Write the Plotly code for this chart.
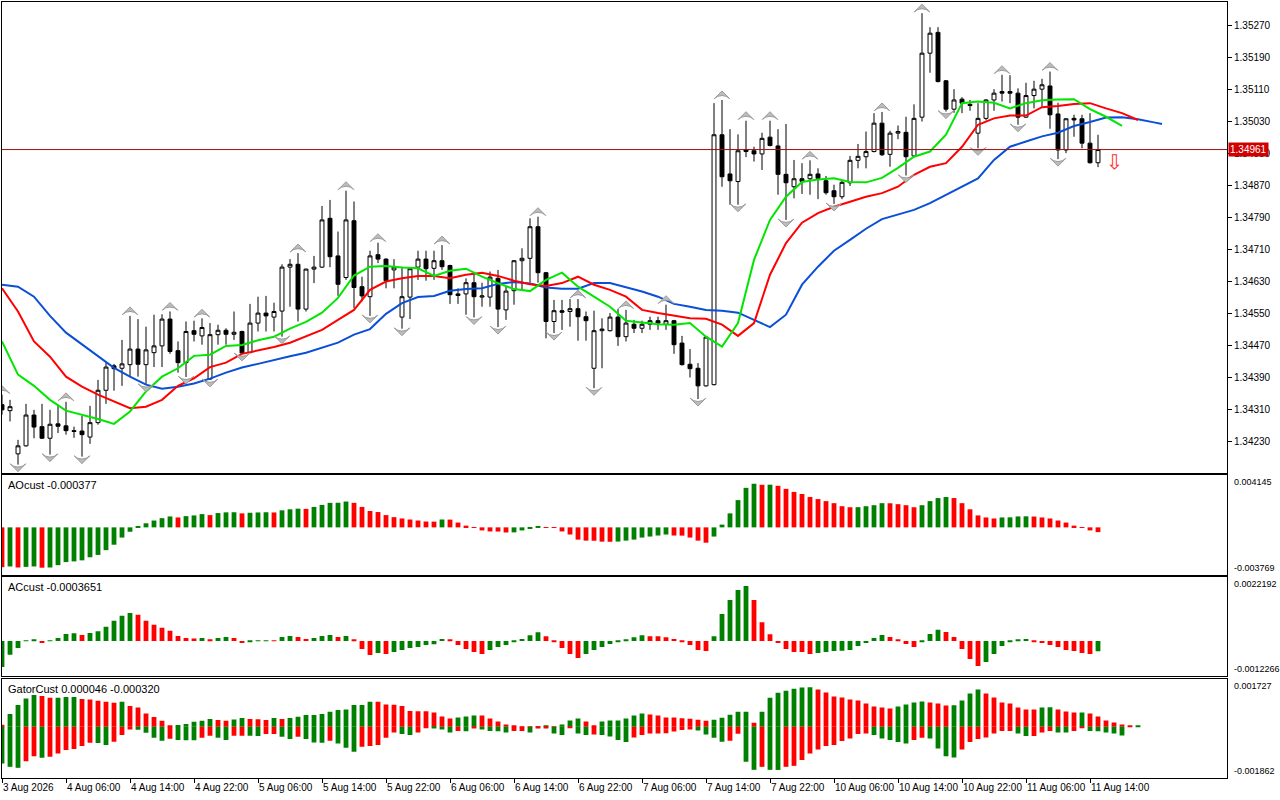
import plotly.graph_objects as go
from plotly.subplots import make_subplots

# H1 bars, bar 0 = 3 Aug 2026 22:00
opens = [
    1.34323, 1.34308, 1.34200, 1.34220, 1.34297, 1.34268, 1.34239, 1.34275, 1.34270, 1.34258,
    1.34257, 1.34242, 1.34278, 1.34359, 1.34420, 1.34414, 1.34423, 1.34462, 1.34423, 1.34453,
    1.34470, 1.34537, 1.34458, 1.34428, 1.34508, 1.34495, 1.34387, 1.34498, 1.34509, 1.34499,
    1.34506, 1.34453, 1.34527, 1.34552, 1.34542, 1.34557, 1.34667, 1.34674, 1.34562, 1.34662,
    1.34667, 1.34789, 1.34695, 1.34641, 1.34783, 1.34618, 1.34593, 1.34698, 1.34687, 1.34660,
    1.34542, 1.34592, 1.34667, 1.34687, 1.34664, 1.34683, 1.34671, 1.34600, 1.34600, 1.34628,
    1.34592, 1.34592, 1.34639, 1.34560, 1.34608, 1.34683, 1.34689, 1.34768, 1.34653, 1.34531,
    1.34558, 1.34556, 1.34563, 1.34543, 1.34414, 1.34508, 1.34508, 1.34542, 1.34493, 1.34524,
    1.34514, 1.34524, 1.34533, 1.34524, 1.34533, 1.34477, 1.34424, 1.34414, 1.34370, 1.34373,
    1.34998, 1.34900, 1.34881, 1.34960, 1.34958, 1.34950, 1.34992, 1.34970, 1.34899, 1.34868,
    1.34888, 1.34888, 1.34900, 1.34883, 1.34858, 1.34843, 1.34878, 1.34934, 1.34943, 1.34956,
    1.35027, 1.34949, 1.35002, 1.35004, 1.34945, 1.35042, 1.35202, 1.35254, 1.35133, 1.35062,
    1.35087, 1.35074, 1.35002, 1.35039, 1.35085, 1.35106, 1.35106, 1.35102, 1.35042, 1.35096,
    1.35112, 1.35120, 1.35050, 1.34960, 1.35039, 1.35038, 1.34977, 1.34928,
]
highs = [
    1.34348, 1.34335, 1.34235, 1.34325, 1.34310, 1.34325, 1.34310, 1.34320, 1.34330, 1.34268,
    1.34295, 1.34320, 1.34385, 1.34428, 1.34425, 1.34485, 1.34545, 1.34537, 1.34518, 1.34548,
    1.34549, 1.34556, 1.34481, 1.34531, 1.34533, 1.34539, 1.34527, 1.34523, 1.34514, 1.34556,
    1.34508, 1.34575, 1.34593, 1.34595, 1.34578, 1.34674, 1.34687, 1.34702, 1.34663, 1.34695,
    1.34820, 1.34835, 1.34756, 1.34858, 1.34831, 1.34643, 1.34708, 1.34728, 1.34689, 1.34687,
    1.34668, 1.34663, 1.34708, 1.34708, 1.34708, 1.34722, 1.34673, 1.34614, 1.34639, 1.34653,
    1.34628, 1.34656, 1.34660, 1.34618, 1.34684, 1.34714, 1.34789, 1.34793, 1.34655, 1.34585,
    1.34585, 1.34587, 1.34587, 1.34556, 1.34558, 1.34539, 1.34552, 1.34562, 1.34560, 1.34535,
    1.34533, 1.34543, 1.34543, 1.34573, 1.34535, 1.34495, 1.34462, 1.34427, 1.34493, 1.35077,
    1.35085, 1.35012, 1.34999, 1.35033, 1.34968, 1.35003, 1.35033, 1.35012, 1.35025, 1.34935,
    1.34927, 1.34934, 1.34914, 1.34895, 1.34873, 1.34885, 1.34945, 1.34975, 1.35006, 1.35052,
    1.35055, 1.35008, 1.35021, 1.35043, 1.35074, 1.35302, 1.35267, 1.35267, 1.35135, 1.35112,
    1.35092, 1.35085, 1.35077, 1.35087, 1.35112, 1.35148, 1.35147, 1.35114, 1.35128, 1.35133,
    1.35138, 1.35156, 1.35078, 1.35039, 1.35048, 1.35048, 1.35052, 1.34998,
]
lows = [
    1.34298, 1.34281, 1.34173, 1.34218, 1.34239, 1.34237, 1.34198, 1.34252, 1.34248, 1.34240,
    1.34193, 1.34225, 1.34273, 1.34325, 1.34358, 1.34370, 1.34393, 1.34393, 1.34373, 1.34417,
    1.34417, 1.34450, 1.34403, 1.34392, 1.34481, 1.34473, 1.34385, 1.34473, 1.34473, 1.34485,
    1.34450, 1.34452, 1.34506, 1.34506, 1.34506, 1.34493, 1.34568, 1.34531, 1.34556, 1.34627,
    1.34665, 1.34667, 1.34595, 1.34635, 1.34564, 1.34581, 1.34545, 1.34677, 1.34614, 1.34614,
    1.34513, 1.34537, 1.34635, 1.34633, 1.34635, 1.34660, 1.34575, 1.34575, 1.34548, 1.34541,
    1.34568, 1.34568, 1.34517, 1.34535, 1.34573, 1.34608, 1.34628, 1.34628, 1.34489, 1.34502,
    1.34510, 1.34518, 1.34483, 1.34483, 1.34364, 1.34414, 1.34506, 1.34470, 1.34481, 1.34502,
    1.34502, 1.34510, 1.34510, 1.34510, 1.34450, 1.34421, 1.34391, 1.34337, 1.34368, 1.34371,
    1.34868, 1.34823, 1.34823, 1.34942, 1.34931, 1.34910, 1.34969, 1.34848, 1.34785, 1.34839,
    1.34850, 1.34848, 1.34837, 1.34848, 1.34825, 1.34837, 1.34870, 1.34914, 1.34914, 1.34954,
    1.34945, 1.34918, 1.34987, 1.34896, 1.34943, 1.35031, 1.35153, 1.35129, 1.35056, 1.35053,
    1.35052, 1.35058, 1.34964, 1.35034, 1.35058, 1.35081, 1.35077, 1.35023, 1.35040, 1.35064,
    1.35068, 1.35013, 1.34937, 1.34952, 1.34993, 1.34964, 1.34926, 1.34917,
]
closes = [
    1.34310, 1.34318, 1.34220, 1.34297, 1.34267, 1.34239, 1.34274, 1.34269, 1.34258, 1.34256,
    1.34248, 1.34278, 1.34359, 1.34417, 1.34413, 1.34425, 1.34462, 1.34424, 1.34460, 1.34470,
    1.34537, 1.34456, 1.34428, 1.34506, 1.34499, 1.34516, 1.34498, 1.34509, 1.34499, 1.34504,
    1.34452, 1.34527, 1.34552, 1.34545, 1.34556, 1.34667, 1.34674, 1.34562, 1.34662, 1.34667,
    1.34785, 1.34693, 1.34624, 1.34785, 1.34616, 1.34595, 1.34695, 1.34687, 1.34633, 1.34667,
    1.34593, 1.34663, 1.34687, 1.34663, 1.34683, 1.34668, 1.34598, 1.34596, 1.34628, 1.34593,
    1.34595, 1.34642, 1.34562, 1.34607, 1.34683, 1.34689, 1.34768, 1.34653, 1.34531, 1.34558,
    1.34554, 1.34563, 1.34543, 1.34533, 1.34508, 1.34512, 1.34542, 1.34493, 1.34527, 1.34514,
    1.34524, 1.34533, 1.34527, 1.34533, 1.34473, 1.34423, 1.34413, 1.34370, 1.34492, 1.34998,
    1.34893, 1.34883, 1.34958, 1.34956, 1.34950, 1.34989, 1.34971, 1.34899, 1.34878, 1.34888,
    1.34881, 1.34899, 1.34889, 1.34853, 1.34843, 1.34879, 1.34934, 1.34944, 1.34956, 1.35027,
    1.34948, 1.35002, 1.35006, 1.34943, 1.35039, 1.35202, 1.35252, 1.35131, 1.35062, 1.35085,
    1.35077, 1.35071, 1.35039, 1.35085, 1.35102, 1.35102, 1.35102, 1.35042, 1.35096, 1.35112,
    1.35123, 1.35048, 1.34960, 1.35038, 1.35035, 1.34977, 1.34928, 1.34961,
]
bar_idx = list(range(len(opens)))

# Alligator lines read every second bar (shifted forward past the last bar)
jaw_idx = list(range(0, 145, 2)) + [145]
jaw = [
    1.34623, 1.34618, 1.34593, 1.34545, 1.34503, 1.34473, 1.34443, 1.34415, 1.34393, 1.34373,
    1.34363, 1.34368, 1.34376, 1.34388, 1.34403, 1.34416, 1.34425, 1.34435, 1.34444, 1.34453,
    1.34465, 1.34478, 1.34498, 1.34512, 1.34550, 1.34577, 1.34592, 1.34595, 1.34608, 1.34612,
    1.34614, 1.34625, 1.34630, 1.34626, 1.34616, 1.34613, 1.34613, 1.34627, 1.34627, 1.34616,
    1.34606, 1.34593, 1.34575, 1.34568, 1.34560, 1.34558, 1.34553, 1.34535, 1.34517, 1.34548,
    1.34623, 1.34668, 1.34708, 1.34735, 1.34763, 1.34787, 1.34798, 1.34810, 1.34827, 1.34848,
    1.34868, 1.34889, 1.34935, 1.34968, 1.34981, 1.34994, 1.35003, 1.35020, 1.35030, 1.35041,
    1.35042, 1.35037, 1.35029, 1.35025,
]
teeth_idx = list(range(0, 143, 2))
teeth = [
    1.34614, 1.34556, 1.34481, 1.34443, 1.34393, 1.34368, 1.34348, 1.34331, 1.34314, 1.34318,
    1.34335, 1.34370, 1.34389, 1.34417, 1.34428, 1.34450, 1.34458, 1.34467, 1.34478, 1.34494,
    1.34510, 1.34535, 1.34560, 1.34610, 1.34631, 1.34639, 1.34645, 1.34645, 1.34639, 1.34648,
    1.34653, 1.34645, 1.34633, 1.34624, 1.34620, 1.34627, 1.34643, 1.34623, 1.34610, 1.34593,
    1.34560, 1.34552, 1.34545, 1.34539, 1.34538, 1.34523, 1.34495, 1.34527, 1.34648, 1.34727,
    1.34778, 1.34802, 1.34818, 1.34831, 1.34843, 1.34852, 1.34868, 1.34898, 1.34918, 1.34927,
    1.34968, 1.35023, 1.35039, 1.35046, 1.35046, 1.35067, 1.35070, 1.35075, 1.35077, 1.35064,
    1.35052, 1.35035,
]
lips_idx = list(range(0, 141, 2))
lips = [
    1.34481, 1.34398, 1.34370, 1.34335, 1.34308, 1.34298, 1.34287, 1.34275, 1.34306, 1.34356,
    1.34393, 1.34414, 1.34445, 1.34448, 1.34470, 1.34472, 1.34484, 1.34493, 1.34513, 1.34530,
    1.34553, 1.34590, 1.34646, 1.34668, 1.34670, 1.34666, 1.34664, 1.34645, 1.34658, 1.34663,
    1.34643, 1.34627, 1.34612, 1.34607, 1.34635, 1.34653, 1.34618, 1.34593, 1.34568, 1.34533,
    1.34528, 1.34524, 1.34523, 1.34527, 1.34493, 1.34468, 1.34527, 1.34685, 1.34785, 1.34843,
    1.34880, 1.34886, 1.34889, 1.34880, 1.34879, 1.34890, 1.34915, 1.34943, 1.34956, 1.34998,
    1.35077, 1.35081, 1.35078, 1.35064, 1.35077, 1.35084, 1.35086, 1.35087, 1.35062, 1.35043,
    1.35020,
]

fractal_up = [0, 8, 16, 21, 25, 37, 43, 47, 55, 67, 72, 78, 83, 90, 93, 96, 101, 110, 115, 125, 131]
fractal_down = [2, 6, 10, 18, 23, 26, 30, 35, 46, 50, 59, 62, 69, 74, 87, 92, 98, 104, 113, 118, 122, 127, 132]

last_price = 1.34961
signal_bar = 139
signal_price = 1.34930

price_ticks = [1.34230, 1.34310, 1.34390, 1.34470, 1.34550, 1.34630, 1.34710,
               1.34790, 1.34870, 1.34950, 1.35030, 1.35110, 1.35190, 1.35270]
time_tick_idx = list(range(0, 137, 8))
time_tick_text = ["3 Aug 2026", "4 Aug 06:00", "4 Aug 14:00", "4 Aug 22:00", "5 Aug 06:00",
                  "5 Aug 14:00", "5 Aug 22:00", "6 Aug 06:00", "6 Aug 14:00", "6 Aug 22:00",
                  "7 Aug 06:00", "7 Aug 14:00", "7 Aug 22:00", "10 Aug 06:00", "10 Aug 14:00",
                  "10 Aug 22:00", "11 Aug 06:00", "11 Aug 14:00"]

ao = [
    -0.003151, -0.003095, -0.003175, -0.003127, -0.003095, -0.003192, -0.003175, -0.002990, -0.002747, -0.002691,
    -0.002610, -0.002367, -0.002182, -0.001802, -0.001374, -0.000808, -0.000347, 0.000081, 0.000323, 0.000541,
    0.000727, 0.000865, 0.000784, 0.000889, 0.000945, 0.001050, 0.000970, 0.001131, 0.001188, 0.001196,
    0.001107, 0.001155, 0.001180, 0.001196, 0.001180, 0.001349, 0.001430, 0.001479, 0.001462, 0.001616,
    0.001778, 0.001939, 0.001947, 0.002044, 0.001939, 0.001616, 0.001293, 0.001212, 0.000970, 0.000808,
    0.000703, 0.000622, 0.000541, 0.000461, 0.000452, 0.000622, 0.000614, 0.000380, 0.000137, -0.000040,
    -0.000242, -0.000323, -0.000331, -0.000404, -0.000396, -0.000242, -0.000081, 0.000057, 0.000024, -0.000040,
    -0.000323, -0.000566, -0.000970, -0.001050, -0.001058, -0.001131, -0.001139, -0.001123, -0.001050, -0.000970,
    -0.000808, -0.000727, -0.000646, -0.000566, -0.000646, -0.000654, -0.000808, -0.001050, -0.001212, -0.000727,
    0.000218, 0.001107, 0.002157, 0.003127, 0.003450, 0.003369, 0.003377, 0.003289, 0.003046, 0.002804,
    0.002642, 0.002400, 0.002238, 0.002077, 0.001915, 0.001673, 0.001592, 0.001600, 0.001673, 0.001753,
    0.001915, 0.001907, 0.001834, 0.001753, 0.001592, 0.001753, 0.002077, 0.002319, 0.002400, 0.002319,
    0.001915, 0.001430, 0.000945, 0.000784, 0.000703, 0.000784, 0.000792, 0.000865, 0.000873, 0.000856,
    0.000784, 0.000703, 0.000541, 0.000380, 0.000137, -0.000040, -0.000242, -0.000377,
]
ac = [
    -0.000910, -0.000480, -0.000245, 0.000018, 0.000025, -0.000070, -0.000011, 0.000105, 0.000245, 0.000270,
    0.000210, 0.000280, 0.000340, 0.000490, 0.000700, 0.000875, 0.000970, 0.000910, 0.000700, 0.000560,
    0.000455, 0.000350, 0.000175, 0.000105, 0.000081, 0.000105, 0.000025, 0.000105, 0.000140, 0.000105,
    -0.000070, -0.000025, -0.000011, 0.000011, 0.000007, 0.000140, 0.000175, 0.000140, 0.000070, 0.000105,
    0.000175, 0.000210, 0.000140, 0.000175, 0.000025, -0.000280, -0.000490, -0.000420, -0.000455, -0.000385,
    -0.000315, -0.000245, -0.000210, -0.000140, -0.000116, 0.000070, 0.000035, -0.000140, -0.000280, -0.000385,
    -0.000455, -0.000315, -0.000210, -0.000140, -0.000035, 0.000070, 0.000200, 0.000305, 0.000165, -0.000025,
    -0.000245, -0.000455, -0.000595, -0.000455, -0.000315, -0.000210, -0.000105, -0.000035, 0.000035, 0.000130,
    0.000200, 0.000165, 0.000161, 0.000130, 0.000070, -0.000025, -0.000140, -0.000315, -0.000350, 0.000165,
    0.000935, 0.001425, 0.001775, 0.001915, 0.001425, 0.000655, 0.000235, -0.000070, -0.000280, -0.000385,
    -0.000389, -0.000455, -0.000420, -0.000385, -0.000350, -0.000347, -0.000315, -0.000175, -0.000070, 0.000105,
    0.000210, 0.000140, 0.000035, -0.000105, -0.000210, -0.000035, 0.000245, 0.000385, 0.000315, 0.000140,
    -0.000280, -0.000630, -0.000875, -0.000735, -0.000455, -0.000175, -0.000025, 0.000025, 0.000070, -0.000018,
    -0.000070, -0.000140, -0.000210, -0.000315, -0.000350, -0.000420, -0.000455, -0.000365,
]
gator_up = [
    0.000070, 0.000462, 0.000790, 0.001030, 0.001154, 0.001117, 0.001056, 0.001059, 0.001081, 0.001085,
    0.001008, 0.000994, 0.000946, 0.000910, 0.000874, 0.000910, 0.000753, 0.000703, 0.000484, 0.000353,
    0.000218, 0.000025, 0.000062, 0.000098, 0.000182, 0.000218, 0.000280, 0.000244, 0.000218, 0.000266,
    0.000317, 0.000280, 0.000277, 0.000244, 0.000317, 0.000280, 0.000317, 0.000364, 0.000426, 0.000430,
    0.000462, 0.000546, 0.000608, 0.000630, 0.000790, 0.000794, 0.000914, 0.000910, 0.000812, 0.000801,
    0.000753, 0.000571, 0.000568, 0.000564, 0.000521, 0.000375, 0.000302, 0.000339, 0.000375, 0.000411,
    0.000408, 0.000302, 0.000193, 0.000084, 0.000047, 0.000011, 0.000007, 0.000018, 0.000047, 0.000011,
    0.000084, 0.000229, 0.000302, 0.000193, 0.000047, 0.000193, 0.000229, 0.000233, 0.000302, 0.000411,
    0.000484, 0.000448, 0.000411, 0.000339, 0.000335, 0.000309, 0.000291, 0.000255, 0.000218, 0.000255,
    0.000328, 0.000437, 0.000546, 0.000550, 0.000146, 0.000546, 0.001056, 0.001238, 0.001310, 0.001383,
    0.001431, 0.001434, 0.001358, 0.001249, 0.001103, 0.001067, 0.000994, 0.000957, 0.000848, 0.000739,
    0.000703, 0.000666, 0.000739, 0.000812, 0.000885, 0.000921, 0.000885, 0.000848, 0.000775, 0.000779,
    0.000957, 0.001212, 0.001358, 0.001212, 0.001067, 0.000885, 0.000848, 0.000703, 0.000630, 0.000626,
    0.000703, 0.000706, 0.000630, 0.000557, 0.000521, 0.000524, 0.000484, 0.000375, 0.000229, 0.000157,
    0.000084, 0.000036, 0.000046,
]
gator_down = [
    -0.001336, -0.001456, -0.001492, -0.001249, -0.001067, -0.001128, -0.001092, -0.000972, -0.000848, -0.000812,
    -0.000703, -0.000582, -0.000586, -0.000666, -0.000546, -0.000302, -0.000098, -0.000109, -0.000218, -0.000400,
    -0.000510, -0.000437, -0.000484, -0.000488, -0.000491, -0.000400, -0.000328, -0.000400, -0.000484, -0.000328,
    -0.000324, -0.000328, -0.000331, -0.000266, -0.000262, -0.000364, -0.000448, -0.000364, -0.000448, -0.000571,
    -0.000582, -0.000510, -0.000608, -0.000764, -0.000910, -0.000728, -0.000703, -0.000666, -0.000400, -0.000207,
    -0.000266, -0.000302, -0.000207, -0.000025, -0.000062, -0.000098, -0.000207, -0.000157, -0.000160, -0.000062,
    -0.000098, -0.000157, -0.000160, -0.000207, -0.000157, -0.000153, -0.000207, -0.000062, -0.000058, -0.000244,
    -0.000302, -0.000025, -0.000244, -0.000302, -0.000280, -0.000302, -0.000353, -0.000484, -0.000557, -0.000389,
    -0.000302, -0.000244, -0.000240, -0.000237, -0.000171, -0.000120, -0.000098, -0.000135, -0.000280, -0.000400,
    -0.000546, -0.000510, -0.000255, -0.001274, -0.001565, -0.001456, -0.001565, -0.001569, -0.001456, -0.001420,
    -0.001212, -0.000972, -0.000826, -0.000703, -0.000666, -0.000521, -0.000426, -0.000266, -0.000244, -0.000302,
    -0.000426, -0.000484, -0.000557, -0.000608, -0.000484, -0.000400, -0.000426, -0.000790, -0.001067, -0.001117,
    -0.000826, -0.000557, -0.000448, -0.000389, -0.000244, -0.000157, -0.000153, -0.000244, -0.000339, -0.000335,
    -0.000207, -0.000157, -0.000207, -0.000211, -0.000157, -0.000025, -0.000157, -0.000160, -0.000207, -0.000244,
    -0.000320,
]

GREEN = "#008000"
RED = "#ff0000"
FONT = "Liberation Sans"


def trend_colors(vals, first, use_abs=False):
    # green when the bar grows versus the previous one, red otherwise
    out = [first]
    for a, b in zip(vals[:-1], vals[1:]):
        if use_abs:
            a, b = abs(a), abs(b)
        out.append(GREEN if b > a else RED)
    return out


fig = make_subplots(rows=4, cols=1, shared_xaxes=True, vertical_spacing=0.004)

# --- price panel ---
fig.add_trace(go.Candlestick(
    x=bar_idx, open=opens, high=highs, low=lows, close=closes,
    increasing=dict(line=dict(color="black", width=1), fillcolor="white"),
    decreasing=dict(line=dict(color="black", width=1), fillcolor="black"),
    whiskerwidth=0, hoverinfo="skip",
), row=1, col=1)

for xs, ys, col in [(jaw_idx, jaw, "#0a4fd6"), (teeth_idx, teeth, "#ff0000"), (lips_idx, lips, "#00e600")]:
    fig.add_trace(go.Scatter(x=xs, y=ys, mode="lines", line=dict(color=col, width=2),
                             hoverinfo="skip"), row=1, col=1)

up_pad = 0.000225
down_pad = 0.000175
fig.add_trace(go.Scatter(
    x=fractal_up, y=[highs[i] + up_pad for i in fractal_up], mode="markers",
    marker=dict(symbol="arrow-wide", size=11, angle=0, color="#bcbcbc",
                line=dict(color="#9a9a9a", width=1)),
    hoverinfo="skip"), row=1, col=1)
fig.add_trace(go.Scatter(
    x=fractal_down, y=[lows[i] - down_pad for i in fractal_down], mode="markers",
    marker=dict(symbol="arrow-wide", size=11, angle=180, color="#bcbcbc",
                line=dict(color="#9a9a9a", width=1)),
    hoverinfo="skip"), row=1, col=1)

fig.add_hline(y=last_price, line=dict(color="#a01010", width=1), row=1, col=1)
fig.add_annotation(xref="paper", x=1, xanchor="left", xshift=1, yref="y", y=last_price,
                   text=f"{last_price:.5f}", showarrow=False, bgcolor="#d00000",
                   font=dict(color="white", size=10, family=FONT), borderpad=1)
fig.add_annotation(x=signal_bar, y=signal_price, xref="x", yref="y", text="⇩", showarrow=False,
                   font=dict(color="#ff2a2a", size=20, family="DejaVu Sans"))

# --- indicator panels ---
fig.add_trace(go.Bar(x=bar_idx, y=ao, width=0.6,
                     marker=dict(color=trend_colors(ao, RED), line=dict(width=0)),
                     hoverinfo="skip"), row=2, col=1)
fig.add_trace(go.Bar(x=bar_idx, y=ac, width=0.6,
                     marker=dict(color=trend_colors(ac, GREEN), line=dict(width=0)),
                     hoverinfo="skip"), row=3, col=1)
fig.add_trace(go.Bar(x=list(range(len(gator_up))), y=gator_up, width=0.6,
                     marker=dict(color=trend_colors(gator_up, RED), line=dict(width=0)),
                     hoverinfo="skip"), row=4, col=1)
fig.add_trace(go.Bar(x=list(range(len(gator_down))), y=gator_down, width=0.6,
                     marker=dict(color=trend_colors(gator_down, GREEN, use_abs=True), line=dict(width=0)),
                     hoverinfo="skip"), row=4, col=1)

panels = [
    ("y2", "AOcust -0.000377", "0.004145", "-0.003769"),
    ("y3", "ACcust -0.0003651", "0.0022192", "-0.0012266"),
    ("y4", "GatorCust 0.000046 -0.000320", "0.001727", "-0.001862"),
]
for ax, title, top_lbl, bot_lbl in panels:
    fig.add_annotation(xref="paper", x=0.0035, yref=f"{ax} domain", y=1, xanchor="left", yanchor="top",
                       yshift=-2, text=title, showarrow=False, font=dict(size=11, family=FONT, color="black"))
    fig.add_annotation(xref="paper", x=1, xshift=5, yref=f"{ax} domain", y=1, xanchor="left", yanchor="top",
                       text=top_lbl, showarrow=False, font=dict(size=9, family=FONT, color="black"))
    fig.add_annotation(xref="paper", x=1, xshift=5, yref=f"{ax} domain", y=0, xanchor="left", yanchor="bottom",
                       text=bot_lbl, showarrow=False, font=dict(size=9, family=FONT, color="black"))

fig.update_xaxes(range=[0, 153.125], showgrid=False, zeroline=False, showline=True, mirror=True,
                 linecolor="black", linewidth=1, showticklabels=False, ticks="",
                 rangeslider_visible=False, automargin=False)
fig.update_xaxes(row=4, col=1, showticklabels=True, ticks="outside", ticklen=4, tickcolor="black",
                 tickvals=time_tick_idx, ticktext=time_tick_text, ticklabelposition="outside right",
                 tickangle=0, tickfont=dict(size=10, family=FONT, color="black"))

fig.update_yaxes(side="right", showgrid=False, zeroline=False, showline=True, mirror=True,
                 linecolor="black", linewidth=1, automargin=False)
fig.update_yaxes(row=1, col=1, range=[1.34152, 1.35330], tickvals=price_ticks,
                 ticktext=[f"{v:.5f}" for v in price_ticks], ticks="outside", ticklen=4,
                 tickcolor="black", tickfont=dict(size=10, family=FONT, color="black"))
fig.update_yaxes(row=2, col=1, range=[-0.003769, 0.004145], showticklabels=False, ticks="")
fig.update_yaxes(row=3, col=1, range=[-0.0012266, 0.0022192], showticklabels=False, ticks="")
fig.update_yaxes(row=4, col=1, range=[-0.001862, 0.001727], showticklabels=False, ticks="")

fig.update_layout(
    width=1280, height=800,
    margin=dict(l=2, r=53, t=2, b=22, autoexpand=False),
    paper_bgcolor="white", plot_bgcolor="white",
    showlegend=False, barmode="overlay",
    font=dict(family=FONT, size=10, color="black"),
    yaxis=dict(domain=[0.3930, 1.0]),
    yaxis2=dict(domain=[0.2616, 0.3905]),
    yaxis3=dict(domain=[0.1314, 0.2586]),
    yaxis4=dict(domain=[0.0, 0.1272]),
)

# the page body carries a default 8px margin; drop it so the chart sits at the window corner
fig.write_html("out.html", config={"displayModeBar": False},
               post_script="document.body.style.margin='0';document.body.style.overflow='hidden';")
